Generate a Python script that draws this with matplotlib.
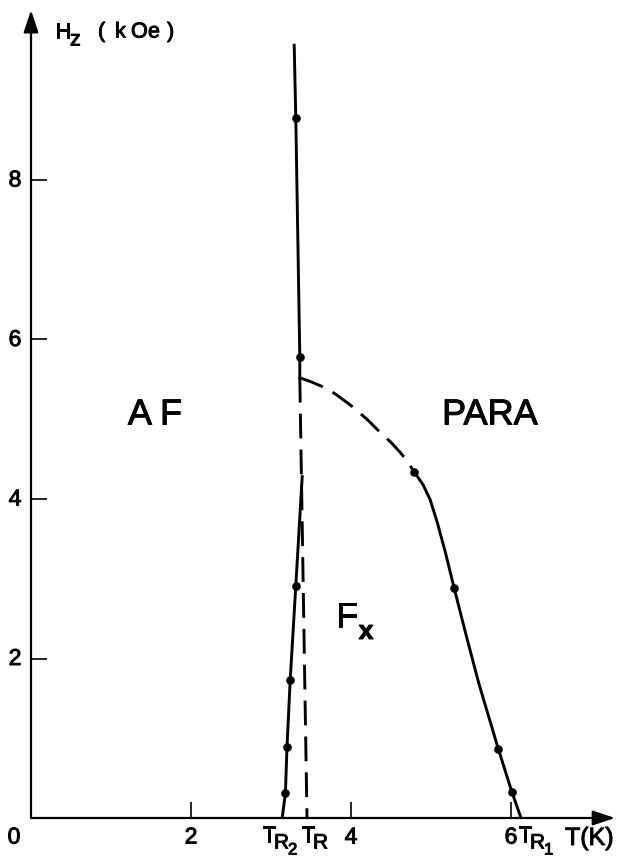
import matplotlib
matplotlib.use('Agg')
import matplotlib.pyplot as plt
import matplotlib.patheffects as pe

plt.rcParams['font.family'] = ['Liberation Sans', 'DejaVu Sans']

# ---------------- data (T in K, Hz in kOe) ----------------
af_top_T = [3.29, 3.31, 3.36, 3.36]
af_top_H = [9.69, 8.78, 5.78, 5.52]
af_top_pts_T = [3.31, 3.36]
af_top_pts_H = [8.78, 5.78]

tr2_T = [3.14, 3.18, 3.20, 3.24, 3.31, 3.39]
tr2_H = [0.00, 0.31, 0.89, 1.73, 2.91, 4.28]
tr2_pts_T = [3.18, 3.20, 3.24, 3.31]
tr2_pts_H = [0.31, 0.89, 1.73, 2.91]

tr_T = [3.36, 3.45]
tr_H = [5.52, 0.00]

para_dash_T = [3.36, 3.50, 3.64, 3.80, 3.99, 4.20, 4.36, 4.50, 4.61, 4.70, 4.79]
para_dash_H = [5.52, 5.47, 5.41, 5.32, 5.18, 5.00, 4.84, 4.71, 4.59, 4.48, 4.34]

para_T = [4.79, 4.90, 4.99, 5.08, 5.18, 5.29, 5.45, 5.60, 5.84, 6.01, 6.125]
para_H = [4.34, 4.18, 3.99, 3.70, 3.33, 2.88, 2.25, 1.68, 0.87, 0.33, 0.00]
para_pts_T = [4.79, 5.29, 5.84, 6.01]
para_pts_H = [4.34, 2.88, 0.87, 0.33]

xticks = [2, 4, 6]
yticks = [2, 4, 6, 8]

# ---------------- figure ----------------
W, H = 621, 859
fig = plt.figure(figsize=(W / 100, H / 100), dpi=100)
x0px, y0px = 31, 818
pxT, pxH = 80.0, 79.75
xmax, ymax = 7.3, 10.13
ax = fig.add_axes([x0px / W, 1 - y0px / H, xmax * pxT / W, ymax * pxH / H])
ax.set_xlim(0, xmax)
ax.set_ylim(0, ymax)
for s in ax.spines.values():
    s.set_visible(False)
ax.patch.set_alpha(0)

arrow = dict(arrowstyle='-|>,head_length=0.9,head_width=0.3', lw=1.6,
             color='k', mutation_scale=15, shrinkA=0, shrinkB=0)
ax.annotate('', xy=(xmax, 0), xytext=(0, 0), arrowprops=arrow, annotation_clip=False)
ax.annotate('', xy=(0, ymax), xytext=(0, 0), arrowprops=arrow, annotation_clip=False)

ax.set_xticks(xticks)
ax.set_yticks(yticks)
ax.tick_params(direction='in', length=11.5, width=1.2, labelbottom=False, labelleft=False)

lw = 2.1
dash = (8.5, 3.8)
ax.plot(af_top_T, af_top_H, color='k', lw=lw)
ax.plot(tr2_T, tr2_H, color='k', lw=lw)
ax.plot(tr_T, tr_H, color='k', lw=lw, dashes=dash)
ax.plot(para_dash_T, para_dash_H, color='k', lw=lw, dashes=dash)
ax.plot(para_T, para_H, color='k', lw=lw, solid_joinstyle='round')
for tx, hy in [(af_top_pts_T, af_top_pts_H), (tr2_pts_T, tr2_pts_H), (para_pts_T, para_pts_H)]:
    ax.plot(tx, hy, 'o', color='k', ms=5.2, ls='none')

heavy = [pe.withStroke(linewidth=0.7, foreground='k')]


def ftext(xp, yp, s, size, ha='left', va='center', **kw):
    fig.text(xp / W, 1 - yp / H, s, fontsize=size, ha=ha, va=va,
             path_effects=heavy, **kw)


# tick labels
num = 16.5
for v in yticks:
    ftext(15, y0px - v * pxH, str(v), num, ha='center')
ftext(14, 837, '0', num, ha='center')
for v in xticks:
    ftext(x0px + v * pxT, 837, str(v), num, ha='center')

# T_R2, T_R, T_R1
def tlabel(xp, sub):
    ftext(xp, 836, 'T', 16)
    ftext(xp + 12, 843, 'R', 15)
    if sub:
        ftext(xp + 26, 850, sub, 12)

tlabel(262, '2')
tlabel(301, '')
tlabel(518, '1')
ftext(565, 838, 'T(K)', 18)

# y label
ftext(55, 32, 'H', 15.5)
ftext(70, 40, 'z', 15.5)
for xp, ch in [(98, '('), (115, 'k'), (131, 'O'), (148, 'e'), (167, ')')]:
    ftext(xp, 32, ch, 15.5)

# region labels
ftext(155, 415, 'A F', 26, ha='center')
ftext(490, 415, 'PARA', 26, ha='center')
ftext(347, 617, 'F', 25, ha='center')
ftext(366, 632, 'x', 19, ha='center', fontweight='bold')

fig.savefig('out.png', dpi=100)
